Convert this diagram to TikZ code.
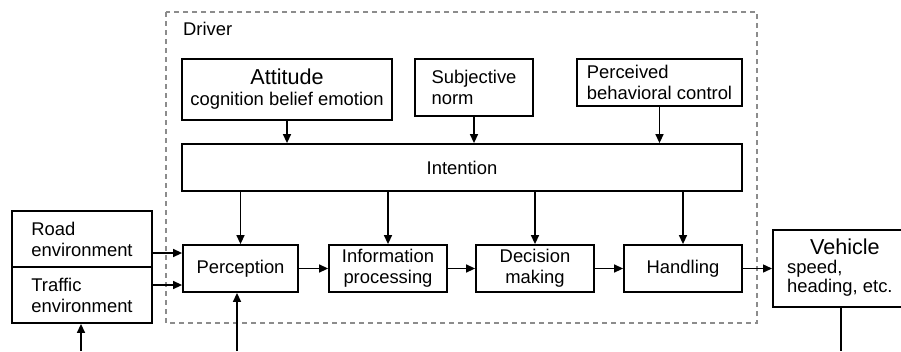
\documentclass[tikz,border=0pt]{standalone}
\usepackage{fontspec}
\setmainfont{Liberation Sans}
\usetikzlibrary{arrows.meta}
\newcommand\dfnormal{\fontsize{18.4}{21}\selectfont}
\newcommand\dftitle{\fontsize{21.6}{23}\selectfont}
\begin{document}
\begin{tikzpicture}[x=1pt,y=-1pt,
  box/.style={draw, line width=1.8pt, inner sep=0pt, font=\dfnormal, align=center},
  lbox/.style={box, align=left},
  arr/.style={line width=1.4pt, -{Triangle[length=9pt,width=8pt]}},
  plain/.style={line width=1.4pt},
  drvborder/.style={draw=gray!90, line width=1.1pt, dash pattern=on 5pt off 4pt}]
\useasboundingbox (0,0) rectangle (901,351);
% driver region
\draw[drvborder] (166,12) rectangle (757,323);
\node[anchor=base west, font=\dfnormal, inner sep=0pt] (drv) at (183,35) {Driver};
% upper boxes
\node[box, minimum width=210, minimum height=61] (att) at (287,89.5)
  {{\dftitle Attitude}\\cognition belief emotion};
\node[lbox, minimum width=118, minimum height=57] (sub) at (474,87.5)
  {Subjective\\norm};
\node[lbox, minimum width=165, minimum height=47] (pbc) at (659.5,82.5)
  {Perceived\\behavioral control};
\node[box, minimum width=560, minimum height=47] (int) at (462,167.5) {Intention};
% process boxes
\node[box, minimum width=115, minimum height=47] (per) at (240.5,268.5) {Perception};
\node[box, minimum width=118, minimum height=47] (inf) at (388,268.5) {Information\\processing};
\node[box, minimum width=118, minimum height=47] (dec) at (535,268.5) {Decision\\making};
\node[box, minimum width=118, minimum height=47] (han) at (683,268.5) {Handling};
% environment
\node[lbox, minimum width=140, minimum height=56] (road) at (82,239) {Road\\environment};
\node[lbox, minimum width=140, minimum height=56] (traf) at (82,295) {Traffic\\environment};
% vehicle
\node[box, minimum width=140, minimum height=77, anchor=west] (veh) at (772,268.5)
  {\begin{tabular}{@{}l@{}}\multicolumn{1}{@{}c@{}}{\dftitle\hspace{10pt}Vehicle}\\[-2pt]speed,\\[-2pt]heading, etc.\end{tabular}\hspace{6pt}};
% arrows from attitudes to intention
\draw[arr] (att.south) -- (att.south |- int.north);
\draw[arr] (sub.south) -- (sub.south |- int.north);
\draw[arr] (pbc.south) -- (pbc.south |- int.north);
% arrows from intention
\draw[arr] (int.south -| per.north) -- (per.north);
\draw[arr] (int.south -| inf.north) -- (inf.north);
\draw[arr] (int.south -| dec.north) -- (dec.north);
\draw[arr] (int.south -| han.north) -- (han.north);
% chain
\draw[arr] (per.east) -- (inf.west);
\draw[arr] (inf.east) -- (dec.west);
\draw[arr] (dec.east) -- (han.west);
\draw[arr] (han.east) -- (han.east -| veh.west);
% environment to perception
\coordinate (pin1) at ([yshift=15.5pt]per.west);
\coordinate (pin2) at ([yshift=-16.5pt]per.west);
\draw[arr] (pin1 -| road.east) -- (pin1);
\draw[arr] (pin2 -| traf.east) -- (pin2);
% bottom inputs and output
\coordinate (tin) at (81,351);
\coordinate (pinb) at (237,351);
\coordinate (vout) at (841,351);
\draw[arr] (tin) -- (tin |- traf.south);
\draw[arr] (pinb) -- (pinb |- per.south);
\draw[plain] (veh.south -| vout) -- (vout);
\end{tikzpicture}
\end{document}
